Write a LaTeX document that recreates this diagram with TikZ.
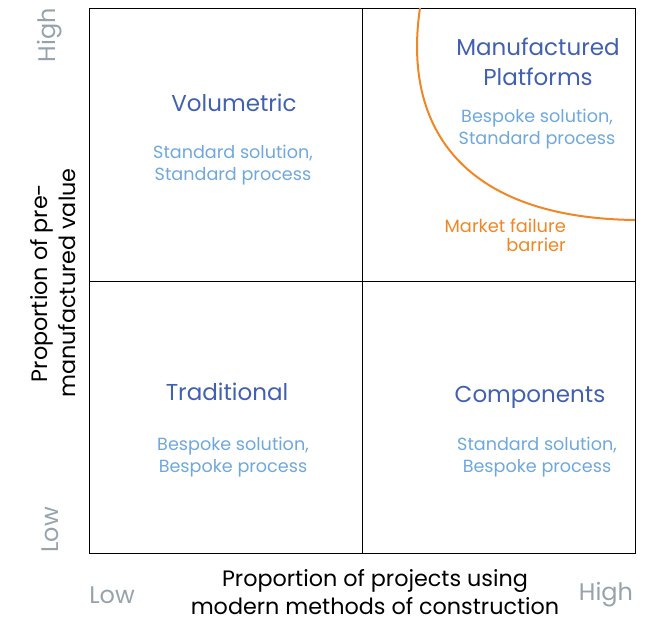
\documentclass[tikz,border=0pt]{standalone}
\usepackage{fontspec}
\setmainfont{Poppins}
\usepackage{tikz}
\definecolor{titleblue}{RGB}{66,96,176}
\definecolor{subblue}{RGB}{111,168,220}
\definecolor{barrierorange}{RGB}{240,134,36}
\definecolor{axisgray}{RGB}{150,162,172}
\tikzset{
  quadtitle/.style={text=titleblue, font=\fontsize{23}{30}\selectfont, align=center, inner sep=0pt},
  quadsub/.style={text=subblue, font=\fontsize{17.6}{22.5}\selectfont, align=center, inner sep=0pt},
  axislabel/.style={text=black, font=\fontsize{22.3}{28}\selectfont, align=center, inner sep=0pt},
  levellabel/.style={text=axisgray, font=\fontsize{24}{26}\selectfont, inner sep=0pt},
}
\begin{document}
\begin{tikzpicture}[x=1pt,y=-1pt]
\useasboundingbox (0,0) rectangle (648,622);
\def\xl{89}  \def\xm{362} \def\xr{635}
\def\yt{8}   \def\ym{281} \def\yb{553}
  % Frame and quadrant lines
  \draw[line width=1pt] (\xl,\yt) rectangle (\xr,\yb);
  \draw[line width=1pt] (\xm,\yt) -- (\xm,\yb);
  \draw[line width=1pt] (\xl,\ym) -- (\xr,\ym);

  % Market failure barrier
  \coordinate (barriertop) at (420,\yt);
  \coordinate (barrierend) at (\xr,220);
  \draw[barrierorange, line width=2pt] (barriertop) .. controls (402,130) and (465,218) .. (barrierend);
  \node[text=barrierorange, font=\fontsize{17.8}{19}\selectfont, align=right, inner sep=0pt, anchor=north east] (barrier) at (566,219) {Market failure\\barrier};

  % Quadrants
  \node[quadtitle] (volumetric) at (234,103) {Volumetric};
  \node[quadsub]   (volumetricsub) at (233,165) {Standard solution,\\Standard process};

  \node[quadtitle] (platforms) at (538,62) {Manufactured\\Platforms};
  \node[quadsub]   (platformssub) at (537,129) {Bespoke solution,\\Standard process};

  \node[quadtitle] (traditional) at (227,392) {Traditional};
  \node[quadsub]   (traditionalsub) at (233,457) {Bespoke solution,\\Bespoke process};

  \node[quadtitle] (components) at (530,397) {Components};
  \node[quadsub]   (componentssub) at (537,457) {Standard solution,\\Bespoke process};

  % Axes
  \node[axislabel] (xaxis) at (375,592) {Proportion of projects using\\modern methods of construction};
  \node[axislabel, rotate=90] (yaxis) at (53,283) {Proportion of pre-\\manufactured value};

  \node[levellabel] (xlow)  at (112,595) {Low};
  \node[levellabel] (xhigh) at (606,595) {High};
  \node[levellabel, rotate=90] (ylow)  at (50,530) {Low};
  \node[levellabel, rotate=90] (yhigh) at (50,35) {High};
\end{tikzpicture}
\end{document}
